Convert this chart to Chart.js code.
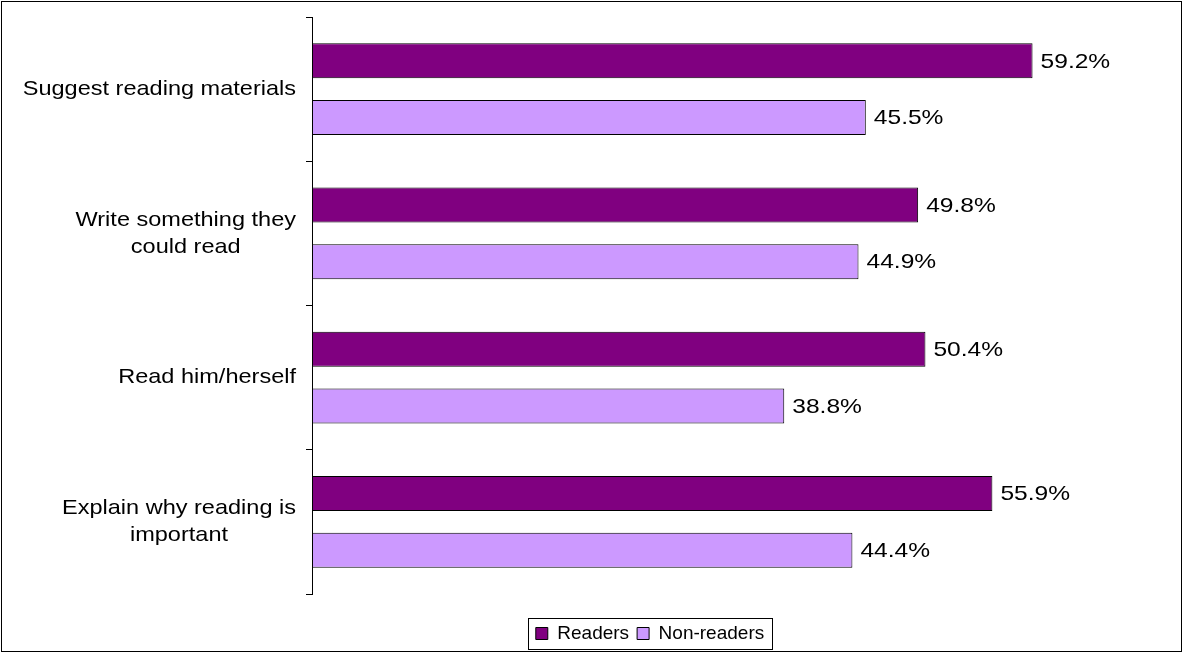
<!DOCTYPE html>
<html>
<head>
<meta charset="utf-8">
<script src="https://cdn.jsdelivr.net/npm/chart.js@4/dist/chart.umd.min.js"></script>
<style>
  html, body { margin: 0; padding: 0; background: #fff; }
  canvas { display: block; }
</style>
</head>
<body>
<canvas id="chart" width="1183" height="653"></canvas>
<script>
// data
const CATEGORIES = [
  ['Suggest reading materials'],
  ['Write something they', 'could read'],
  ['Read him/herself'],
  ['Explain why reading is', 'important']
];
const SERIES_NAMES = ['Readers', 'Non-readers'];
const READERS = [59.2, 49.8, 50.4, 55.9];
const NON_READERS = [45.5, 44.9, 38.8, 44.4];
const X_MIN = 0;
const X_MAX = 70;

const FONT = '"Liberation Sans", Arial, sans-serif';

// draw text stretched horizontally, like the old chart renderer
function stretchedText(ctx, txt, x, y, sx, align) {
  const w = ctx.measureText(txt).width * sx;
  let left = x;
  if (align === 'center') left = x - w / 2;
  else if (align === 'right') left = x - w;
  ctx.save();
  ctx.translate(left, y);
  ctx.scale(sx, 1);
  ctx.textAlign = 'left';
  ctx.fillText(txt, 0, 0);
  ctx.restore();
}

// frame, category labels, value labels, legend border
const decorations = {
  id: 'decorations',
  afterLayout(chart) {
    // legend sits a bit right of the canvas centre in the original
    chart.legend.left += 68;
    chart.legend.right += 68;
  },
  beforeDraw(chart) {
    const ctx = chart.ctx;
    ctx.save();
    ctx.fillStyle = '#fff';
    ctx.fillRect(0, 0, chart.width, chart.height);
    ctx.restore();
  },
  afterDraw(chart) {
    const ctx = chart.ctx;
    ctx.save();

    // outer frame
    ctx.strokeStyle = '#000';
    ctx.lineWidth = 1;
    ctx.strokeRect(1.5, 1.5, chart.width - 3, chart.height - 3);

    // category labels, lines centred on each other
    const yScale = chart.scales.y;
    const sxLab = 1.12;
    ctx.font = '21px ' + FONT;
    ctx.fillStyle = '#000';
    ctx.textBaseline = 'middle';
    const lh = 27;
    CATEGORIES.forEach(function(lines, i) {
      const y = yScale.getPixelForValue(i);
      const maxW = sxLab * Math.max.apply(null, lines.map(function(l) { return ctx.measureText(l).width; }));
      const cx = yScale.right - 16 - maxW / 2;
      const y0 = y - (lines.length - 1) * lh / 2;
      lines.forEach(function(l, k) { stretchedText(ctx, l, cx, y0 + k * lh, sxLab, 'center'); });
    });

    // value labels
    chart.data.datasets.forEach(function(ds, d) {
      chart.getDatasetMeta(d).data.forEach(function(bar, i) {
        stretchedText(ctx, ds.data[i].toFixed(1) + '%', bar.x + 8, bar.y + 1, 1.17, 'left');
      });
    });

    // legend border
    const boxes = chart.legend.legendHitBoxes;
    if (boxes && boxes.length) {
      const left = Math.min.apply(null, boxes.map(function(b) { return b.left; })) - 8;
      const right = Math.max.apply(null, boxes.map(function(b) { return b.left + b.width; })) + 8;
      const top = boxes[0].top - 6;
      const bottom = boxes[0].top + boxes[0].height + 6;
      ctx.strokeRect(Math.round(left) + 0.5, Math.round(top) + 0.5, Math.round(right - left), Math.round(bottom - top));
    }
    ctx.restore();
  }
};

new Chart(document.getElementById('chart'), {
  type: 'bar',
  data: {
    labels: CATEGORIES,
    datasets: [
      {
        label: SERIES_NAMES[0],
        data: READERS,
        backgroundColor: '#800080',
        borderColor: '#000',
        borderWidth: 1,
        borderSkipped: false,
        categoryPercentage: 0.785,
        barPercentage: 0.62
      },
      {
        label: SERIES_NAMES[1],
        data: NON_READERS,
        backgroundColor: '#CC99FF',
        borderColor: '#000',
        borderWidth: 1,
        borderSkipped: false,
        categoryPercentage: 0.785,
        barPercentage: 0.62
      }
    ]
  },
  options: {
    indexAxis: 'y',
    responsive: false,
    animation: false,
    devicePixelRatio: 1,
    layout: { padding: { top: 17, right: 19, bottom: 0, left: 0 } },
    scales: {
      x: {
        min: X_MIN,
        max: X_MAX,
        grid: { display: false },
        border: { display: false },
        ticks: { display: false },
        afterFit: function(scale) { scale.height = 22; }
      },
      y: {
        grid: { drawOnChartArea: false, tickLength: 6, color: '#000' },
        border: { color: '#000' },
        ticks: { display: false },
        afterFit: function(scale) { scale.width = 312; }
      }
    },
    plugins: {
      tooltip: { enabled: false },
      legend: {
        position: 'bottom',
        labels: {
          color: '#000',
          font: { family: FONT, size: 19 },
          boxWidth: 12,
          boxHeight: 12,
          padding: 8
        }
      }
    }
  },
  plugins: [decorations]
});
</script>
</body>
</html>
